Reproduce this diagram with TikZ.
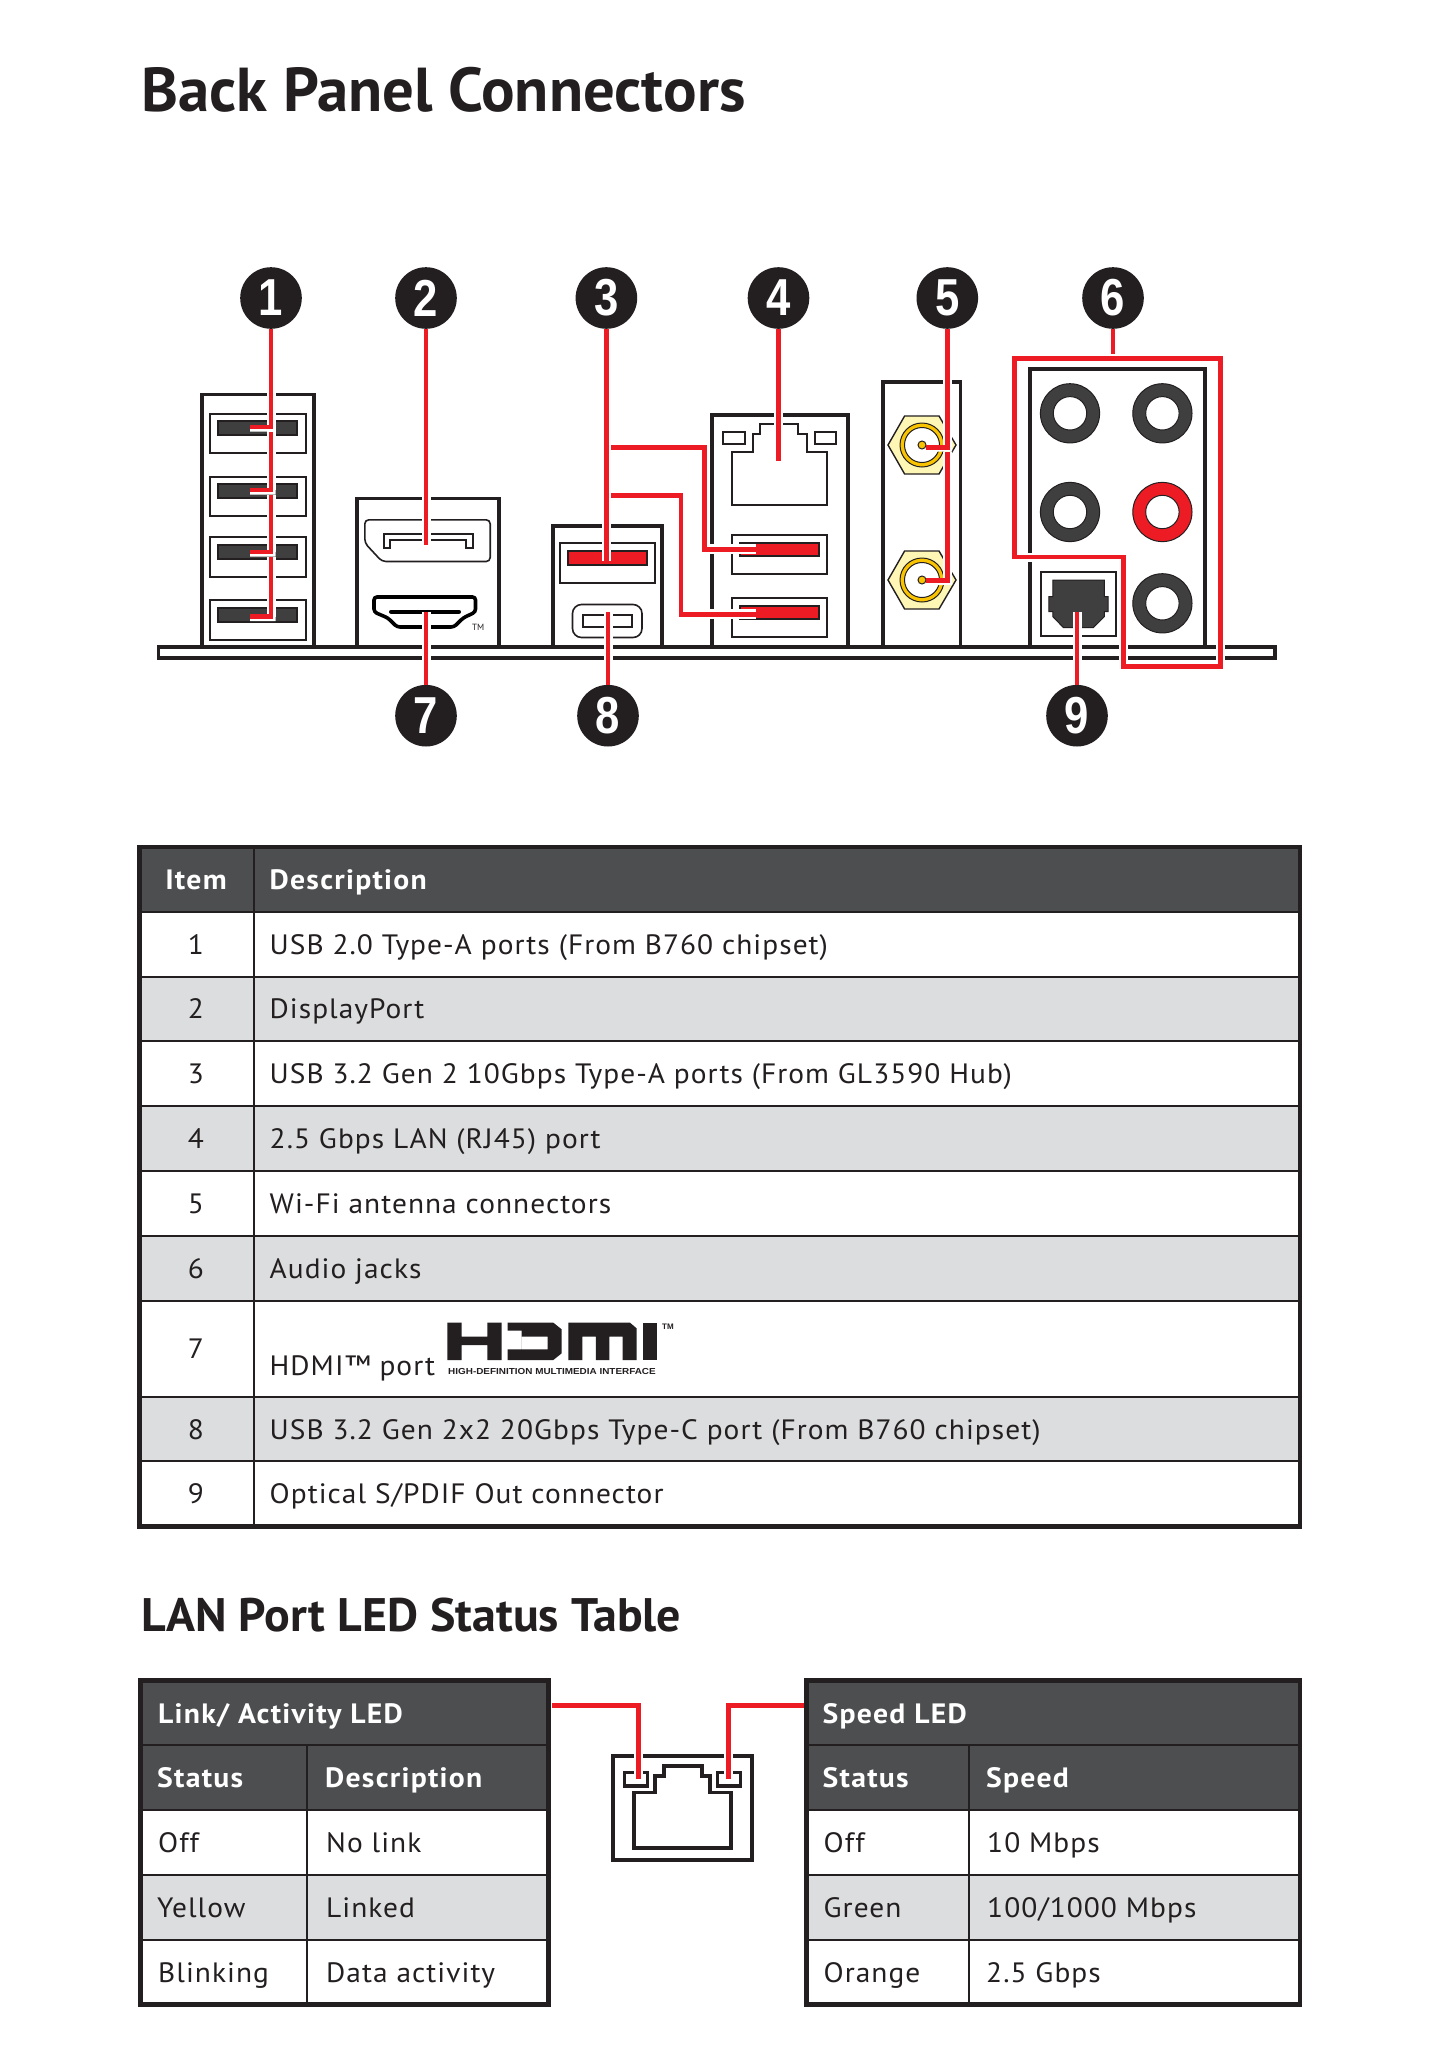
\documentclass[tikz,border=0pt]{standalone}
\usepackage{fontspec}
\setmainfont{PT Sans}
\newfontfamily\bodyfam{PT Sans}[FakeStretch=1.05,LetterSpace=3.7]
\newfontfamily\headfam{PT Sans Bold}[FakeStretch=1.06,LetterSpace=4.5]
\newfontfamily\titlefam{PT Sans Bold}[FakeStretch=1.011]
\newfontfamily\subtitlefam{PT Sans Bold}[FakeStretch=1.02]
\newfontfamily\badgefam{Liberation Sans Bold}[FakeStretch=0.84]
\newfontfamily\logofont{Liberation Sans Bold}[FakeStretch=1.14]
\newfontfamily\logotm{Liberation Sans Bold}
\definecolor{ink}{HTML}{231F20}
\definecolor{redl}{HTML}{ED1C24}
\definecolor{headbg}{HTML}{4D4E50}
\definecolor{rowbg}{HTML}{DCDDDE}
\definecolor{slot}{HTML}{3F3F3F}
\definecolor{hexy}{HTML}{FDF6B5}
\definecolor{gold}{HTML}{F9C300}
\newcommand{\bodyf}{\bodyfam\fontsize{28}{32}\selectfont}
\newcommand{\headf}{\headfam\fontsize{28}{32}\selectfont}
\tikzset{
  box/.style={draw=ink,line width=3.6pt},
  port/.style={draw=ink,line width=2pt,fill=white},
  slotd/.style={draw=ink,line width=2pt,fill=slot},
  slotr/.style={draw=ink,line width=2pt,fill=redl},
  thinl/.style={draw=ink,line width=1.6pt},
  casing/.style={draw=white,line width=9pt},
  redline/.style={draw=redl,line width=4.8pt},
  badge/.style={circle,fill=ink,text=white,minimum size=61.6pt,inner sep=0pt,font=\badgefam\fontsize{52}{52}\selectfont},
  cell/.style={anchor=base west,inner sep=0pt,text=ink,font=\bodyf},
  num/.style={anchor=base,inner sep=0pt,text=ink,font=\bodyf},
  hcell/.style={anchor=base west,inner sep=0pt,text=white,font=\headf},
  hcellc/.style={anchor=base,inner sep=0pt,text=white,font=\headf},
  rule/.style={draw=ink,line width=2pt},
  frame/.style={draw=ink,line width=4.6pt},
}
\begin{document}
\begin{tikzpicture}[x=1pt,y=-1pt]
\useasboundingbox (0,0) rectangle (1446,2066);
\fill[white] (0,0) rectangle (1446,2066);

% titles
\node[anchor=base west,inner sep=0pt,text=ink,font=\titlefam\fontsize{62}{62}\selectfont] (title) at (141,111.7) {Back Panel Connectors};
\node[anchor=base west,inner sep=0pt,text=ink,font=\subtitlefam\fontsize{47}{47}\selectfont] (title2) at (141,1631.5) {LAN Port LED Status Table};

% panel bar and housings
\draw[box] (158.5,647) rectangle (1275,658);
\draw[box] (202,647) -- (202,394.5) -- (314,394.5) -- (314,647);
\draw[box] (357,647) -- (357,498.5) -- (499,498.5) -- (499,647);
\draw[box] (553,647) -- (553,525.7) -- (662,525.7) -- (662,647);
\draw[box] (712,647) -- (712,414.7) -- (848,414.7) -- (848,647);
\draw[box] (883,647) -- (883,381.7) -- (960.3,381.7) -- (960.3,647);
\draw[box] (1030,647) -- (1030,368.7) -- (1205,368.7) -- (1205,647);

% USB 2.0 stack
\foreach \a/\b/\c/\d in {413/453.7/420/436,476/516.7/483/499,536/577.7/544/560,599/640.7/607/623}{
  \draw[port] (209.5,\a+1) rectangle (305.5,\b-1);
  \draw[slotd] (218,\c+1) rectangle (297,\d-1);
}

% DisplayPort
\draw[thinl,rounded corners=4pt] (364.8,543) -- (364.8,519.8) -- (490.2,519.8) -- (490.2,561.5) -- (382,561.5) -- cycle;
\draw[port] (384,547.5) -- (384,534.2) -- (472.5,534.2) -- (472.5,547.5) -- (466,547.5) -- (466,539.5) -- (390,539.5) -- (390,547.5) -- cycle;

% HDMI port
\draw[draw=black,line width=3.6pt,rounded corners=3pt] (374,612) -- (374,597) -- (475.5,597) -- (475.5,612) -- (463,618) -- (454,627) -- (397,627) -- (388,618) -- cycle;
\draw[draw=black,line width=4pt,line cap=round] (391,611.7) -- (459,611.7);
\node[anchor=base west,inner sep=0pt,text=ink,font=\fontsize{9}{9}\selectfont] (tm) at (472,630) {TM};

% USB 3.2 / Type-C
\draw[port] (560,543) rectangle (655,582.7);
\draw[slotr] (568,551) rectangle (647,565);
\draw[thinl,rounded corners=9pt] (572.5,604.5) rectangle (642,637.5);
\draw[port] (582.5,615) rectangle (632,626.7);

% LAN jack + USB
\draw[port] (732.4,451.7) -- (753,451.7) -- (753,434) -- (760,434) -- (760,424.3) -- (798,424.3) -- (798,434) -- (807,434) -- (807,451.7) -- (826.5,451.7) -- (826.5,504.7) -- (732.4,504.7) -- cycle;
\draw[port] (723,432) rectangle (745,443.5);
\draw[port] (815,432) rectangle (836,443.5);
\draw[port] (732.4,535) rectangle (826.5,574);
\draw[slotr] (740,543) rectangle (819,556);
\draw[port] (732.4,598) rectangle (826.5,636.7);
\draw[slotr] (740,606) rectangle (819,618.7);

% antenna connectors
\foreach \cy in {445,580}{
  \begin{scope}[shift={(922,\cy)}]
    \draw[draw=ink,line width=1.4pt,fill=hexy] (-34,0) -- (-17.4,-29) -- (17,-29) -- (34,0) -- (17,29) -- (-17.4,29) -- cycle;
    \draw[draw=ink,line width=1pt,fill=gold] (0,0) circle (22pt);
    \draw[draw=ink,line width=1pt,fill=white] (0,0) circle (17.5pt);
    \draw[draw=ink,line width=1pt,fill=gold] (0,0) circle (4pt);
  \end{scope}
}

% audio jacks
\foreach \jx/\jy/\col in {1070/413.3/slot,1162.4/413.3/slot,1070/512/slot,1162.4/512/redl,1162.4/603.3/slot}{
  \draw[draw=ink,line width=1pt,fill=\col] (\jx,\jy) circle (29.6pt);
  \draw[draw=ink,line width=1pt,fill=white] (\jx,\jy) circle (16.7pt);
}

% optical
\draw[port] (1041,572) rectangle (1116,635.7);
\fill[slot,draw=ink,line width=1pt] (1052.9,580) -- (1104.3,580) -- (1104.3,596.7) -- (1108.2,596.7) -- (1108.2,611.7) -- (1104.3,611.7) -- (1104.3,616.7) -- (1093.2,627.7) -- (1063.5,627.7) -- (1052.9,616.7) -- (1052.9,611.7) -- (1048.9,611.7) -- (1048.9,596.7) -- (1052.9,596.7) -- cycle;

% badges
\node[badge] (c1) at (271,298) {1};
\node[badge] (c2) at (426,298) {2};
\node[badge] (c3) at (606.4,298) {3};
\node[badge] (c4) at (778.5,298) {4};
\node[badge] (c5) at (947.3,298) {5};
\node[badge] (c6) at (1113,298) {6};
\node[badge] (c7) at (426,715.7) {7};
\node[badge] (c8) at (608,715.7) {8};
\node[badge] (c9) at (1077,715.7) {9};

% targets
\coordinate (t2) at (426,545);
\coordinate (t3) at (606.4,561);
\coordinate (t4) at (778.5,460.7);
\coordinate (t7) at (426,611.7);
\coordinate (t8) at (608,611.7);
\coordinate (t9) at (1077,611.7);

% connector 1 : one leg per port
\coordinate (u1) at (271,427);
\coordinate (u2) at (271,490);
\coordinate (u3) at (271,552);
\coordinate (u4) at (271,616.7);
\coordinate (u1e) at (250,427);
\coordinate (u2e) at (250,490);
\coordinate (u3e) at (250,552);
\coordinate (u4e) at (250,616.7);
\coordinate (u2s) at (271,432);
\coordinate (u3s) at (271,495);
\coordinate (u4s) at (271,557);
\fill[white] (250,427) rectangle (275.5,431.5) (250,490) rectangle (275.5,494.5) (250,552) rectangle (275.5,556.5) (250,616.7) rectangle (275.5,621.2);
\draw[casing] (c1.south) -- (u1);
\draw[casing] (u2s) -- (u2);
\draw[casing] (u3s) -- (u3);
\draw[casing] (u4s) -- (u4);
\fill[white] (266.5,427) rectangle (275.5,431.5);
\draw[redline] (c1.south) -- (u1) -- (u1e);
\draw[redline] (u2s) -- (u2) -- (u2e);
\draw[redline] (u3s) -- (u3) -- (u3e);
\draw[redline] (u4s) -- (u4) -- (u4e);

% connector 2, 7, 8, 4, 9
\foreach \a/\b in {c2.south/t2,c7.north/t7,c8.north/t8,c4.south/t4,c9.north/t9}{
  \draw[casing] (\a) -- (\b);
  \draw[redline] (\a) -- (\b);
}

% connector 3
\coordinate (b1s) at (611,447.3);
\coordinate (b1a) at (704.5,447.3);
\coordinate (b1b) at (704.5,549.3);
\coordinate (b1e) at (756,549.3);
\coordinate (b2s) at (611,495.7);
\coordinate (b2a) at (681,495.7);
\coordinate (b2b) at (681,614.3);
\coordinate (b2e) at (756,614.3);
\draw[casing,line width=10pt] (b1s) -- (b1a) -- (b1b) -- (b1e);
\draw[casing,line width=10pt] (b2s) -- (b2a) -- (b2b) -- (b2e);
\draw[redline] (b1s) -- (b1a) -- (b1b) -- (b1e);
\draw[redline] (b2s) -- (b2a) -- (b2b) -- (b2e);
\draw[casing] (c3.south) -- (t3);
\draw[redline] (c3.south) -- (t3);

% connector 5
\coordinate (w1) at (947.3,447.3);
\coordinate (w1e) at (926,447.3);
\coordinate (w2s) at (947.3,452);
\coordinate (w2) at (947.3,580.7);
\coordinate (w2e) at (926,580.7);
\fill[white] (926,447.3) rectangle (952,451.7) (926,580.7) rectangle (952,585.2);
\draw[casing] (c5.south) -- (w1);
\draw[casing] (w2s) -- (w2);
\draw[redline] (c5.south) -- (w1) -- (w1e);
\draw[redline] (w2s) -- (w2) -- (w2e);

% connector 6
\coordinate (o1) at (1014.5,358.3);
\coordinate (o2) at (1220.5,358.3);
\coordinate (o3) at (1220.5,666.3);
\coordinate (o4) at (1123.7,666.3);
\coordinate (o5) at (1123.7,557);
\coordinate (o6) at (1014.5,557);
\coordinate (o7) at (1113,354);
\draw[casing] (o1) -- (o2) -- (o3) -- (o4) -- (o5) -- (o6) -- cycle;
\draw[redline] (o1) -- (o2) -- (o3) -- (o4) -- (o5) -- (o6) -- cycle;
\draw[redline] (c6.south) -- (o7);

% ---------- main table ----------
\fill[headbg] (140,847) rectangle (1300,912);
\foreach \a/\b in {977/1041,1106/1171,1236/1301,1397/1461}{\fill[rowbg] (140,\a) rectangle (1300,\b);}
\foreach \y in {912,977,1041,1106,1171,1236,1301,1397,1461}{\draw[rule] (140,\y) -- (1300,\y);}
\draw[rule] (253.5,847) -- (253.5,1526.5);
\draw[frame] (139.7,847) rectangle (1300,1526.5);
\node[hcellc] (hitem) at (196,889) {Item};
\node[hcell] (hdesc) at (269.5,889) {Description};
\foreach \n/\y/\t in {1/954.3/{USB 2.0 Type-A ports (From B760 chipset)},
  2/1018.7/{DisplayPort},
  3/1083.5/{USB 3.2 Gen 2 10Gbps Type-A ports (From GL3590 Hub)},
  4/1148.5/{2.5 Gbps LAN (RJ45) port},
  5/1213.5/{Wi-Fi antenna connectors},
  6/1278.5/{Audio jacks},
  8/1439/{USB 3.2 Gen 2x2 20Gbps Type-C port (From B760 chipset)},
  9/1503.5/{Optical S/PDIF Out connector}}{
  \node[num] (n\n) at (196,\y) {\n};
  \node[cell] (d\n) at (269.5,\y) {\t};
}
\node[num] (n7) at (196,1358) {7};
\node[cell] (d7) at (269.5,1375) {HDMI™ port};

% HDMI logo
\begin{scope}[shift={(440,1310)},x=0.3333pt,y=-0.3333pt]
  \fill[ink] (22,38) -- (65,38) -- (65,80) -- (142,80) -- (142,38) -- (185,38) -- (185,150) -- (142,150) -- (142,105) -- (65,105) -- (65,150) -- (22,150) -- cycle;
  \fill[ink,even odd rule] (203,38) -- (340,38) -- (365,58) -- (365,130) -- (340,150) -- (203,150) -- (203,118) -- (245,118) -- (245,62) -- (203,62) -- cycle (245,80) -- (323,80) -- (323,118) -- (245,118) -- cycle;
  \fill[ink] (385,38) -- (570,38) -- (590,55) -- (590,150) -- (548,150) -- (548,80) -- (508,80) -- (508,150) -- (468,150) -- (468,80) -- (427,80) -- (427,150) -- (385,150) -- cycle;
  \fill[ink] (608,38) rectangle (650,150);
\end{scope}
\node[anchor=base west,inner sep=0pt,text=ink,font=\logofont\fontsize{8.7}{9}\selectfont] (logosub) at (448,1374.3) {HIGH-DEFINITION MULTIMEDIA INTERFACE};
\node[anchor=base west,inner sep=0pt,text=ink,font=\logotm\fontsize{8}{8}\selectfont] (logotmtxt) at (662,1329) {TM};

% ---------- LAN tables ----------
\fill[headbg] (140.3,1680.3) rectangle (548.7,1810);
\fill[rowbg] (140.3,1875) rectangle (548.7,1940);
\foreach \y in {1745,1810,1875,1940}{\draw[rule] (140.3,\y) -- (548.7,\y);}
\draw[rule] (306.7,1745) -- (306.7,2004.3);
\draw[frame] (140.3,1680.3) rectangle (548.7,2004.3);
\node[hcell] (l0) at (158,1723) {Link/ Activity LED};
\node[hcell] (l1) at (157,1787) {Status};
\node[hcell] (l2) at (325,1787) {Description};
\node[cell] (l3) at (158,1852) {Off};
\node[cell] (l4) at (326,1852) {No link};
\node[cell] (l5) at (157,1917) {Yellow};
\node[cell] (l6) at (326,1917) {Linked};
\node[cell] (l7) at (158,1982) {Blinking};
\node[cell] (l8) at (326,1982) {Data activity};

\fill[headbg] (806.3,1680.3) rectangle (1300,1810);
\fill[rowbg] (806.3,1875) rectangle (1300,1940);
\foreach \y in {1745,1810,1875,1940}{\draw[rule] (806.3,\y) -- (1300,\y);}
\draw[rule] (969,1745) -- (969,2004.3);
\draw[frame] (806.3,1680.3) rectangle (1300,2004.3);
\node[hcell] (s0) at (822.5,1723) {Speed LED};
\node[hcell] (s1) at (822.5,1787) {Status};
\node[hcell] (s2) at (986,1787) {Speed};
\node[cell] (s3) at (823.5,1852) {Off};
\node[cell] (s4) at (987,1852) {10 Mbps};
\node[cell] (s5) at (823.5,1917) {Green};
\node[cell] (s6) at (987,1917) {100/1000 Mbps};
\node[cell] (s7) at (823.5,1982) {Orange};
\node[cell] (s8) at (986,1982) {2.5 Gbps};

% LAN icon
\draw[draw=ink,line width=4pt] (613,1756) rectangle (752,1860);
\draw[draw=ink,line width=3.4pt] (634,1792.7) -- (655,1792.7) -- (655,1776) -- (664,1776) -- (664,1766) -- (702,1766) -- (702,1776) -- (710,1776) -- (710,1792.7) -- (731,1792.7) -- (731,1848) -- (634,1848) -- cycle;
\draw[draw=ink,line width=3.4pt,fill=white] (624.7,1772.7) rectangle (647.3,1786);
\draw[draw=ink,line width=3.4pt,fill=white] (717.7,1772.7) rectangle (740.3,1786);
\coordinate (la) at (552,1705.3);
\coordinate (lb) at (638.3,1705.3);
\coordinate (lc) at (638.3,1778.7);
\coordinate (ra) at (804,1705.3);
\coordinate (rb) at (728.3,1705.3);
\coordinate (rc) at (728.3,1778.7);
\draw[casing] (lb) -- (lc);
\draw[casing] (rb) -- (rc);
\draw[redline] (la) -- (lb) -- (lc);
\draw[redline] (ra) -- (rb) -- (rc);
\end{tikzpicture}
\end{document}
